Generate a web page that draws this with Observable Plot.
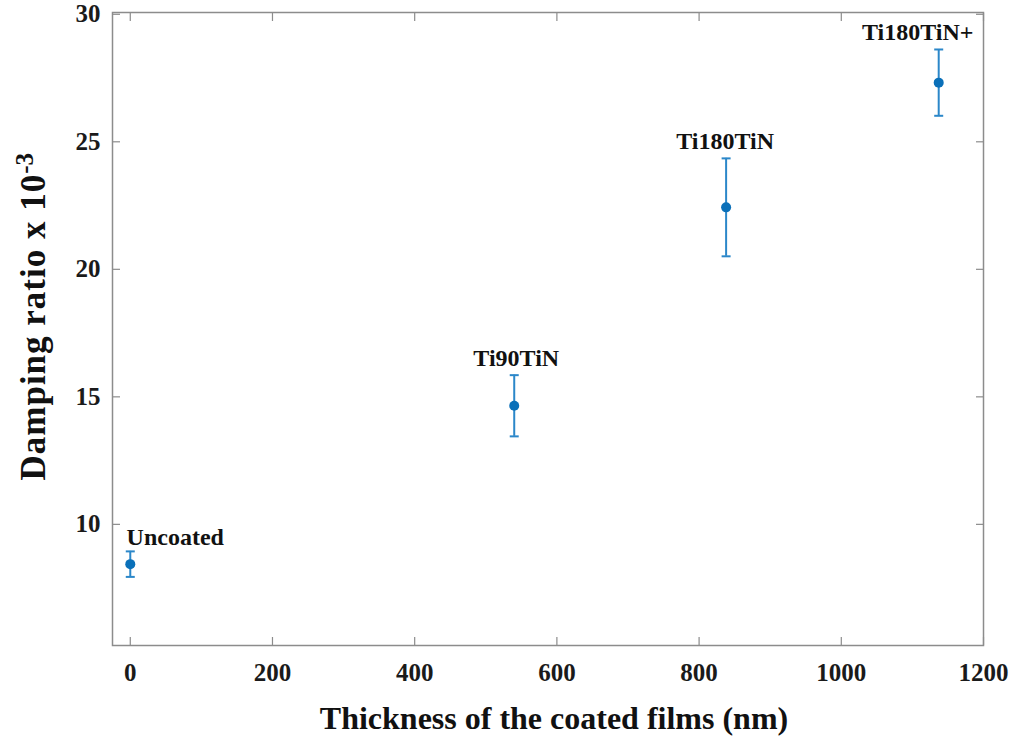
<!DOCTYPE html>
<html>
<head>
<meta charset="utf-8">
<script src="https://cdn.jsdelivr.net/npm/d3@7"></script>
<script src="https://cdn.jsdelivr.net/npm/@observablehq/plot@0.6"></script>
<style>
  html, body { margin: 0; padding: 0; background: #fff; }
  #chart svg { display: block; }
</style>
</head>
<body>
<div id="chart"></div>
<script>
const labels = ["Uncoated", "Ti90TiN", "Ti180TiN", "Ti180TiN+"];
const thickness = [0, 540, 838, 1137];
const damping = [8.44, 14.65, 22.43, 27.32];
const errors = [0.5, 1.2, 1.92, 1.3];
const xTicks = [0, 200, 400, 600, 800, 1000, 1200];
const yTicks = [10, 15, 20, 25, 30];

const data = labels.map((label, i) => ({
  label, x: thickness[i], y: damping[i], lo: damping[i] - errors[i], hi: damping[i] + errors[i]
}));

// label placement styles (pixel offsets)
const labelDx = [45, 2, -1, -21];
const labelDy = [-14, -17, -17, -17];

const gray = "#8c8c8c";
const dotColor = "#0a70b9";
const barColor = "#2b87c9";
const font = "Liberation Serif, Times New Roman, serif";

const cap = {
  draw(ctx, size) {
    const w = Math.sqrt(size / Math.PI);
    ctx.moveTo(-w, 0);
    ctx.lineTo(w, 0);
  }
};

const chart = Plot.plot({
  width: 1013,
  height: 736,
  marginLeft: 112,
  marginRight: 30,
  marginTop: 12,
  marginBottom: 91,
  style: { fontFamily: font, background: "#fff", color: "#111" },
  x: { domain: [-25, 1200] },
  y: { domain: [5.25, 30.07] },
  marks: [
    Plot.frame({ stroke: gray, strokeWidth: 1.5 }),
    // inward ticks on all four sides
    Plot.axisX(xTicks, { anchor: "bottom", tickSize: -8, tickFormat: () => "", label: null, stroke: gray, strokeWidth: 1.2 }),
    Plot.axisX(xTicks, { anchor: "top", tickSize: -8, tickFormat: () => "", label: null, stroke: gray, strokeWidth: 1.2 }),
    Plot.axisY(yTicks, { anchor: "left", tickSize: -8, tickFormat: () => "", label: null, stroke: gray, strokeWidth: 1.2 }),
    Plot.axisY(yTicks, { anchor: "right", tickSize: -8, tickFormat: () => "", label: null, stroke: gray, strokeWidth: 1.2 }),
    // tick labels
    Plot.text(xTicks, { x: d => d, frameAnchor: "bottom", text: d => String(d), dy: 27, lineAnchor: "middle",
      fontSize: 25, fontWeight: "bold", fill: "#1a1a1a" }),
    Plot.text(yTicks, { y: d => d, frameAnchor: "left", text: d => String(d), dx: -12, textAnchor: "end", lineAnchor: "middle",
      fontSize: 25, fontWeight: "bold", fill: "#1a1a1a" }),
    // error bars
    Plot.ruleX(data, { x: "x", y1: "lo", y2: "hi", stroke: barColor, strokeWidth: 2 }),
    Plot.dot(data, { x: "x", y: "hi", symbol: cap, r: 4.5, stroke: barColor, strokeWidth: 2, fill: "none" }),
    Plot.dot(data, { x: "x", y: "lo", symbol: cap, r: 4.5, stroke: barColor, strokeWidth: 2, fill: "none" }),
    Plot.dot(data, { x: "x", y: "y", r: 5, fill: dotColor, stroke: "none" }),
    // point labels
    ...data.map((d, i) => Plot.text([d], {
      x: "x", y: "hi", text: "label", dx: labelDx[i], dy: labelDy[i],
      fontSize: 24, fontWeight: "bold", fill: "#111", lineAnchor: "middle"
    })),
    // axis titles
    Plot.text(["Thickness of the coated films (nm)"], {
      frameAnchor: "bottom", text: d => d, dx: 6, dy: 73, lineAnchor: "middle",
      fontSize: 32, fontWeight: "bold", fill: "#111"
    }),
    Plot.text(["Damping ratio x 10"], {
      frameAnchor: "left", text: d => d, rotate: -90, dx: -79, dy: 151.5, textAnchor: "start", lineAnchor: "middle",
      fontSize: 35, fontWeight: "bold", fill: "#111"
    })
  ]
});

chart.querySelectorAll("text").forEach(t => {
  if (t.textContent === "Damping ratio x 10") {
    t.style.letterSpacing = "1px";
    const sup = document.createElementNS("http://www.w3.org/2000/svg", "tspan");
    sup.textContent = "-3";
    sup.setAttribute("dy", "-12");
    sup.setAttribute("dx", "0");
    sup.style.fontSize = "25px";
    sup.style.letterSpacing = "0px";
    t.appendChild(sup);
  }
});

document.getElementById("chart").appendChild(chart);
</script>
</body>
</html>
